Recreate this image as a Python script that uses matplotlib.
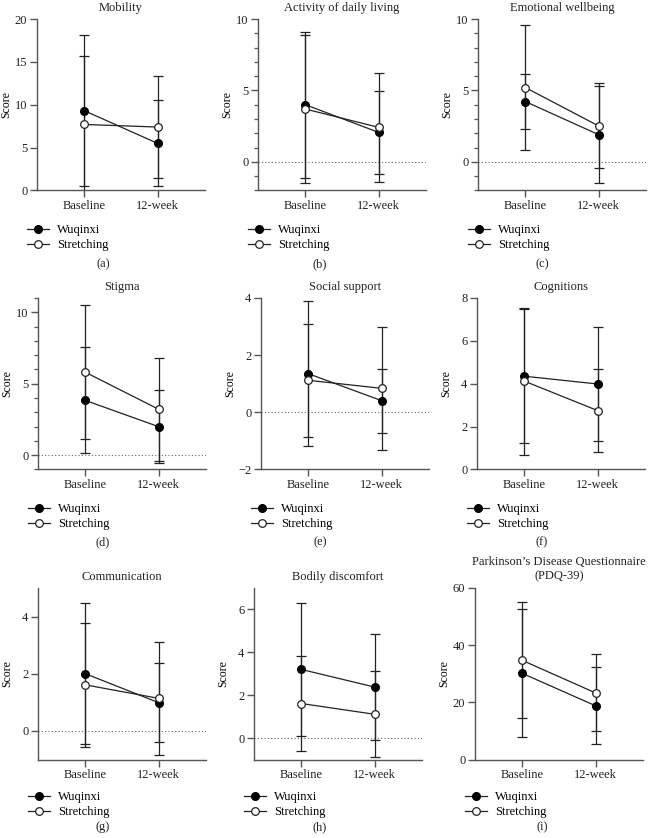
import numpy as np
import matplotlib.pyplot as plt
from matplotlib.ticker import MultipleLocator
from matplotlib.lines import Line2D

plt.rcParams['font.family'] = ['Liberation Serif', 'DejaVu Serif']
plt.rcParams['font.size'] = 9

# data (mean, SD) at Baseline and 12-week
times = ['Baseline', '12-week']
titles = ['Mobility', 'Activity of daily living', 'Emotional wellbeing',
          'Stigma', 'Social support', 'Cognitions',
          'Communication', 'Bodily discomfort',
          'Parkinson\u2019s Disease Questionnaire\n(PDQ-39)']
sublabels = ['(a)', '(b)', '(c)', '(d)', '(e)', '(f)', '(g)', '(h)', '(i)']

wuqinxi_mean = [[9.3, 5.5], [4.0, 2.07], [4.22, 1.91], [3.83, 2.0], [1.35, 0.41],
                [4.35, 3.99], [2.0, 0.99], [3.2, 2.38], [30.1, 18.8]]
wuqinxi_sd = [[8.8, 5.0], [5.1, 2.9], [1.95, 3.38], [3.71, 2.55], [2.54, 1.12],
              [3.13, 2.68], [2.46, 1.37], [3.1, 2.48], [22.4, 13.4]]
stretch_mean = [[7.7, 7.4], [3.7, 2.42], [5.2, 2.52], [5.8, 3.22], [1.12, 0.84],
                [4.12, 2.75], [1.61, 1.14], [1.61, 1.11], [34.65, 23.3]]
stretch_sd = [[8.0, 5.9], [5.2, 3.83], [4.35, 2.97], [4.7, 3.61], [1.98, 2.15],
              [3.43, 1.92], [2.18, 1.97], [2.2, 2.0], [20.3, 13.5]]

ylims = [(0, 20), (-2, 10), (-2, 10), (-1, 11), (-2, 4), (0, 8), (-1, 5), (-1, 7), (0, 60)]
major = [5, 5, 5, 5, 2, 2, 2, 2, 20]
minor = [None, 1, 1, 1, None, None, None, None, None]

W, H = 648, 838
fig = plt.figure(figsize=(W / 100, H / 100), dpi=100)

# axes boxes in pixels: left, top
lefts = [[37, 258, 478], [38, 261, 477], [38, 254, 475]]
tops = [19, 298, 588]
aw, ah = 168, 171.5
legend_y = [228, 507, 795]
label_y = [264, 542, 827]
label_x = [103, 320, 542]

ink = '#222222'
spine_c = '#555555'
x = np.arange(len(times))

handles = [Line2D([], [], color=ink, lw=0.9, marker='o', ms=5.5, mfc='black', mec='black'),
           Line2D([], [], color=ink, lw=0.9, marker='o', ms=5.5, mfc='white', mec=ink, mew=0.9)]

for i in range(9):
    r, c = divmod(i, 3)
    l, t = lefts[r][c], tops[r]
    ax = fig.add_axes([l / W, 1 - (t + ah) / H, aw / W, ah / H])
    ax.errorbar(x, wuqinxi_mean[i], yerr=wuqinxi_sd[i], color=ink, lw=0.9,
                elinewidth=0.9, capsize=3.5, capthick=0.9, marker='o', ms=5.5,
                mfc='black', mec='black', zorder=3)
    ax.errorbar(x, stretch_mean[i], yerr=stretch_sd[i], color=ink, lw=0.9,
                elinewidth=0.9, capsize=3.5, capthick=0.9, marker='o', ms=5.5,
                mfc='white', mec=ink, mew=0.9, zorder=3)
    if ylims[i][0] < 0:
        ax.axhline(0, color='#666666', lw=0.8, ls=(0, (1, 2)), zorder=1)
    ax.set_xlim(-0.65, 1.65)
    ax.set_ylim(*ylims[i])
    ax.yaxis.set_major_locator(MultipleLocator(major[i]))
    if minor[i]:
        ax.yaxis.set_minor_locator(MultipleLocator(minor[i]))
    ax.set_xticks(x)
    ax.set_xticklabels(times)
    for s in ['top', 'right']:
        ax.spines[s].set_visible(False)
    for s in ['left', 'bottom']:
        ax.spines[s].set_color(spine_c)
        ax.spines[s].set_linewidth(1.0)
    ax.tick_params(which='major', length=5, width=1.0, color=spine_c, labelsize=9,
                   labelcolor='#222222', pad=2)
    ax.tick_params(which='minor', length=3, width=0.9, color=spine_c)
    ax.set_ylabel('Score', fontsize=8.5)
    ax.yaxis.set_label_coords(-0.145, 0.5)
    ax.set_title(titles[i], fontsize=9, pad=6, color='#222222', linespacing=1.3)
    leg_top = (t + ah - legend_y[r] + 9) / ah
    ax.legend(handles, ['Wuqinxi', 'Stretching'], loc='upper left',
              bbox_to_anchor=(-0.09, leg_top), frameon=False, fontsize=9,
              handlelength=1.8, handletextpad=0.6, labelspacing=0.25,
              borderaxespad=0)
    fig.text(label_x[c] / W, 1 - label_y[r] / H, sublabels[i], ha='center',
             va='center', fontsize=9, color='#222222')

fig.savefig('out.png', dpi=100, facecolor='white')
